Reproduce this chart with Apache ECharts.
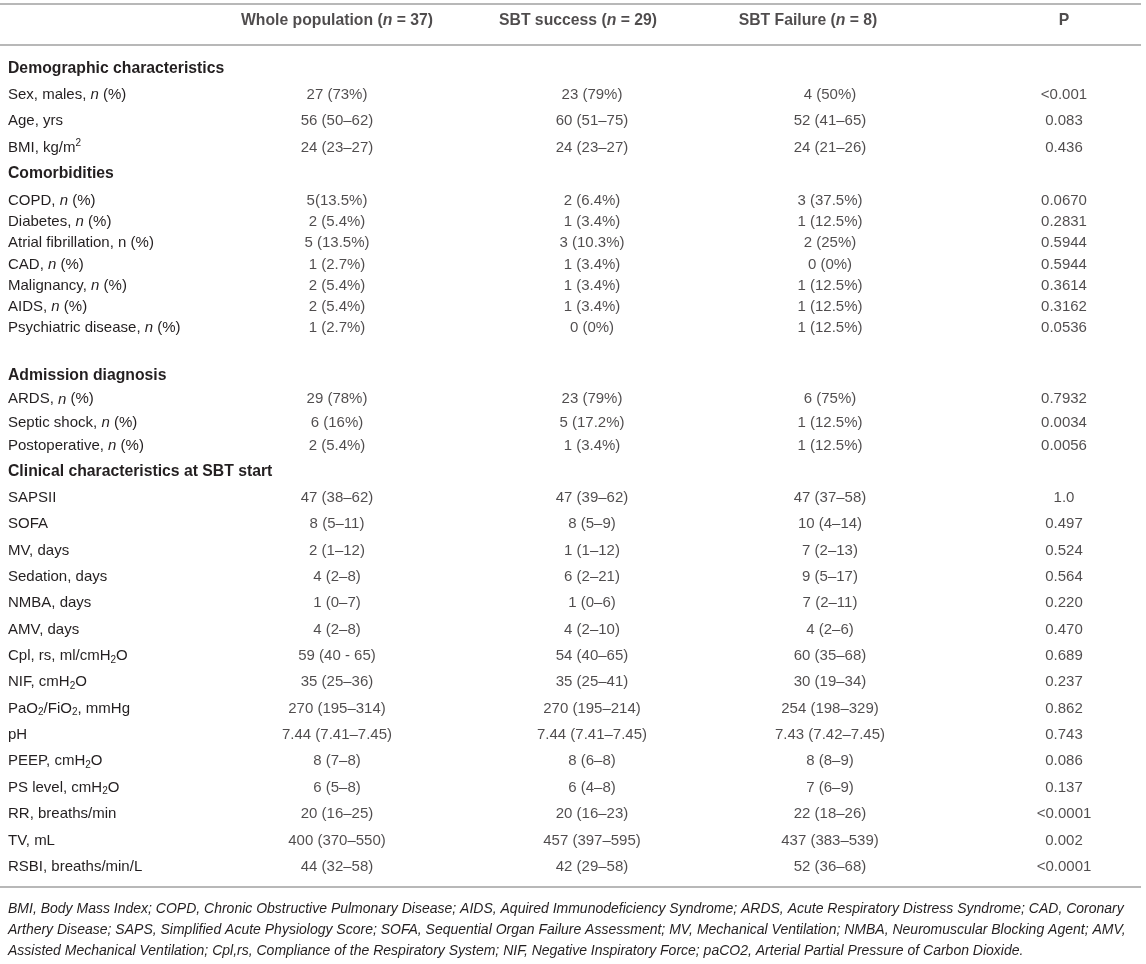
<!DOCTYPE html>
<html>
<head>
<meta charset="utf-8">
<title>SBT characteristics</title>
<script src="https://cdn.jsdelivr.net/npm/echarts@6/dist/echarts.min.js"></script>
<style>
    html, body { margin: 0; padding: 0; background: #fff; }
    #chart { width: 1146px; height: 964px; }
</style>
</head>
<body>
<div id="chart"></div>
<script>
// column headers (rich markup: b = bold, bi = bold italic)
const columnHeaders = ['{b|Whole population (}{bi|n}{b| = 37)}', '{b|SBT success (}{bi|n}{b| = 29)}', '{b|SBT Failure (}{bi|n}{b| = 8)}', '{b|P}'];

// row labels, section headers in bold
const rowLabels = [
    '{b|Demographic characteristics}',
    'Sex, males, {i|n} (%)',
    'Age, yrs',
    'BMI, kg/m{sup|2}',
    '{b|Comorbidities}',
    'COPD, {i|n} (%)',
    'Diabetes, {i|n} (%)',
    'Atrial fibrillation, n (%)',
    'CAD, {i|n} (%)',
    'Malignancy, {i|n} (%)',
    'AIDS, {i|n} (%)',
    'Psychiatric disease, {i|n} (%)',
    '{b|Admission diagnosis}',
    'ARDS, {i|n} (%)',
    'Septic shock, {i|n} (%)',
    'Postoperative, {i|n} (%)',
    '{b|Clinical characteristics at SBT start}',
    'SAPSII',
    'SOFA',
    'MV, days',
    'Sedation, days',
    'NMBA, days',
    'AMV, days',
    'Cpl, rs, ml/cmH{sub|2}O',
    'NIF, cmH{sub|2}O',
    'PaO{sub|2}/FiO{sub|2}, mmHg',
    'pH',
    'PEEP, cmH{sub|2}O',
    'PS level, cmH{sub|2}O',
    'RR, breaths/min',
    'TV, mL',
    'RSBI, breaths/min/L'
];

const wholePopulation = ['', '27 (73%)', '56 (50–62)', '24 (23–27)',
    '', '5(13.5%)', '2 (5.4%)', '5 (13.5%)', '1 (2.7%)', '2 (5.4%)', '2 (5.4%)', '1 (2.7%)',
    '', '29 (78%)', '6 (16%)', '2 (5.4%)',
    '', '47 (38–62)', '8 (5–11)', '2 (1–12)', '4 (2–8)', '1 (0–7)', '4 (2–8)', '59 (40 - 65)',
    '35 (25–36)', '270 (195–314)', '7.44 (7.41–7.45)', '8 (7–8)', '6 (5–8)', '20 (16–25)',
    '400 (370–550)', '44 (32–58)'];

const sbtSuccess = ['', '23 (79%)', '60 (51–75)', '24 (23–27)',
    '', '2 (6.4%)', '1 (3.4%)', '3 (10.3%)', '1 (3.4%)', '1 (3.4%)', '1 (3.4%)', '0 (0%)',
    '', '23 (79%)', '5 (17.2%)', '1 (3.4%)',
    '', '47 (39–62)', '8 (5–9)', '1 (1–12)', '6 (2–21)', '1 (0–6)', '4 (2–10)', '54 (40–65)',
    '35 (25–41)', '270 (195–214)', '7.44 (7.41–7.45)', '8 (6–8)', '6 (4–8)', '20 (16–23)',
    '457 (397–595)', '42 (29–58)'];

const sbtFailure = ['', '4 (50%)', '52 (41–65)', '24 (21–26)',
    '', '3 (37.5%)', '1 (12.5%)', '2 (25%)', '0 (0%)', '1 (12.5%)', '1 (12.5%)', '1 (12.5%)',
    '', '6 (75%)', '1 (12.5%)', '1 (12.5%)',
    '', '47 (37–58)', '10 (4–14)', '7 (2–13)', '9 (5–17)', '7 (2–11)', '4 (2–6)', '60 (35–68)',
    '30 (19–34)', '254 (198–329)', '7.43 (7.42–7.45)', '8 (8–9)', '7 (6–9)', '22 (18–26)',
    '437 (383–539)', '52 (36–68)'];

const pValues = ['', '<0.001', '0.083', '0.436',
    '', '0.0670', '0.2831', '0.5944', '0.5944', '0.3614', '0.3162', '0.0536',
    '', '0.7932', '0.0034', '0.0056',
    '', '1.0', '0.497', '0.524', '0.564', '0.220', '0.470', '0.689',
    '0.237', '0.862', '0.743', '0.086', '0.137', '<0.0001',
    '0.002', '<0.0001'];

const footnoteLines = [
    'BMI, Body Mass Index; COPD, Chronic Obstructive Pulmonary Disease; AIDS, Aquired Immunodeficiency Syndrome; ARDS, Acute Respiratory Distress Syndrome; CAD, Coronary',
    'Arthery Disease; SAPS, Simplified Acute Physiology Score; SOFA, Sequential Organ Failure Assessment; MV, Mechanical Ventilation; NMBA, Neuromuscular Blocking Agent; AMV,',
    'Assisted Mechanical Ventilation; Cpl,rs, Compliance of the Respiratory System; NIF, Negative Inspiratory Force; paCO2, Arterial Partial Pressure of Carbon Dioxide.'
];

// layout: column centres (px), and bands of rows sharing one row step
const headerX = [337, 578, 808, 1064];
const cellX = [337, 592, 830, 1064];
const headerY = 21;
const bands = [
    { rows: 5, first: 68.5, step: 26.35 },
    { rows: 7, first: 201, step: 21.12 },
    { rows: 4, first: 376, step: 23.33 },
    { rows: 16, first: 471.5, step: 26.35 }
];

const textColor = '#231f20';
const font = '"Liberation Sans", Arial, Helvetica, sans-serif';
const fontSize = 15;
const boldSize = 15.75;

const rich = {
    b: { fontWeight: 'bold', fontSize: boldSize, fontFamily: font, color: textColor, textBorderWidth: 0 },
    bi: { fontWeight: 'bold', fontStyle: 'italic', fontSize: boldSize, fontFamily: font, color: textColor, textBorderWidth: 0 },
    i: { fontStyle: 'italic', fontSize: fontSize, fontFamily: font, color: textColor, textBorderWidth: 0 },
    sub: { fontSize: 10, lineHeight: 10, verticalAlign: 'bottom', fontFamily: font, color: textColor, textBorderWidth: 0 },
    sup: { fontSize: 10, lineHeight: 10, verticalAlign: 'top', fontFamily: font, color: textColor, textBorderWidth: 0 }
};

const columns = [wholePopulation, sbtSuccess, sbtFailure, pValues];

const grids = [];
const xAxes = [];
const yAxes = [];
const series = [];

function addBand(top, height, labels, data) {
    const k = grids.length;
    grids.push({ left: 0, right: 0, top: top, height: height, outerBoundsMode: 'none' });
    xAxes.push({
        type: 'value',
        gridIndex: k,
        min: 0,
        max: 1146,
        show: false
    });
    yAxes.push({
        type: 'category',
        gridIndex: k,
        data: labels,
        inverse: true,
        axisLine: { show: false },
        axisTick: { show: false },
        splitLine: { show: false },
        axisLabel: {
            interval: 0,
            align: 'left',
            margin: -8,
            fontSize: fontSize,
            fontFamily: font,
            color: textColor,
            lineHeight: 18,
            rich: rich
        }
    });
    series.push({
        type: 'scatter',
        xAxisIndex: k,
        yAxisIndex: k,
        symbol: 'circle',
        symbolSize: 1,
        silent: true,
        itemStyle: { color: 'rgba(0,0,0,0)' },
        label: {
            show: true,
            position: 'inside',
            formatter: p => p.data.cell,
            fontSize: fontSize,
            fontFamily: font,
            color: textColor,
            textBorderWidth: 0,
            lineHeight: 18,
            rich: rich
        },
        data: data
    });
}

// header row
addBand(headerY - 12, 24, [''], columnHeaders.map((h, c) => ({ value: [headerX[c], 0], cell: h })));

// body rows
let start = 0;
bands.forEach(band => {
    const labels = rowLabels.slice(start, start + band.rows);
    const data = [];
    for (let r = 0; r < band.rows; r++) {
        columns.forEach((col, c) => {
            const text = col[start + r];
            if (text !== '') {
                data.push({ value: [cellX[c], r], cell: text });
            }
        });
    }
    addBand(band.first - band.step / 2, band.rows * band.step, labels, data);
    start += band.rows;
});

const ruleStyle = { stroke: '#b8b8b8', lineWidth: 2 };
const graphic = [4, 45, 887].map(y => ({
    type: 'line',
    silent: true,
    shape: { x1: 0, y1: y, x2: 1141, y2: y },
    style: ruleStyle
}));
footnoteLines.forEach((line, i) => {
    graphic.push({
        type: 'text',
        silent: true,
        x: 8,
        y: 909 + i * 21,
        style: {
            text: line,
            font: 'italic 14px "Liberation Sans", Arial, sans-serif',
            fill: textColor,
            align: 'left',
            verticalAlign: 'middle'
        }
    });
});

const chart = echarts.init(document.getElementById('chart'), null, { renderer: 'canvas' });
chart.setOption({
    animation: false,
    backgroundColor: '#ffffff',
    grid: grids,
    xAxis: xAxes,
    yAxis: yAxes,
    series: series,
    graphic: graphic
});
</script>
</body>
</html>
